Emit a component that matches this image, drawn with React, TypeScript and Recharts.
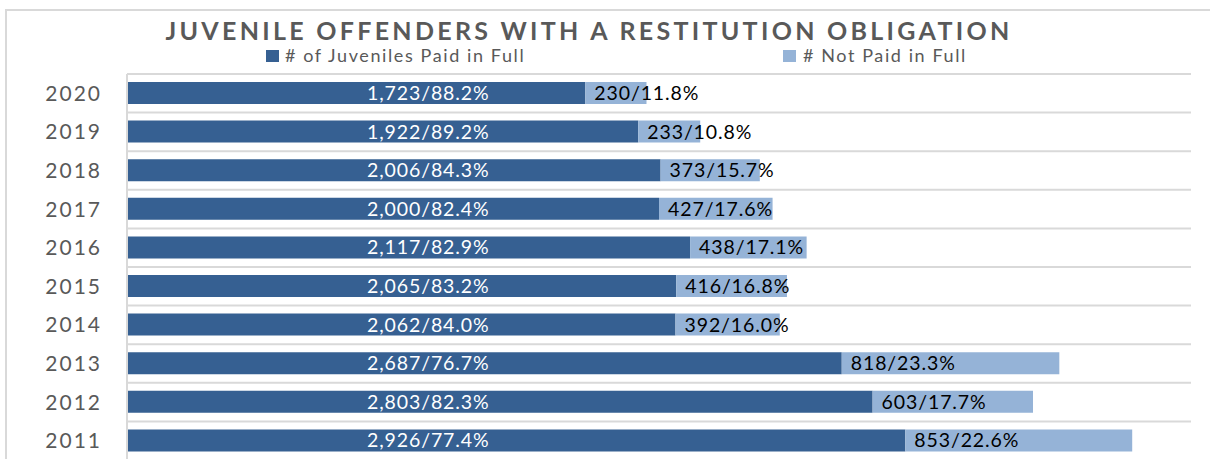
import React from 'react';
import { BarChart, Bar, XAxis, YAxis, CartesianGrid, LabelList } from 'recharts';

const years = ['2020', '2019', '2018', '2017', '2016', '2015', '2014', '2013', '2012', '2011'];
const paidInFull = [1723, 1922, 2006, 2000, 2117, 2065, 2062, 2687, 2803, 2926];
const paidPct = ['88.2', '89.2', '84.3', '82.4', '82.9', '83.2', '84.0', '76.7', '82.3', '77.4'];
const notPaidInFull = [230, 233, 373, 427, 438, 416, 392, 818, 603, 853];
const notPaidPct = ['11.8', '10.8', '15.7', '17.6', '17.1', '16.8', '16.0', '23.3', '17.7', '22.6'];

const seriesNames = ['# of Juveniles Paid in Full', '# Not Paid in Full'];
const title = 'JUVENILE OFFENDERS WITH A RESTITUTION OBLIGATION';

const DARK = '#366092';
const LIGHT = '#95B3D7';
const GRID = '#D9D9D9';
const TEXT = '#595959';
const FONT = 'Lato, "Open Sans", sans-serif';

const data = years.map((y, i) => ({
  year: y,
  paid: paidInFull[i],
  notPaid: notPaidInFull[i],
  paidLabel: `${paidInFull[i].toLocaleString('en-US')}/${paidPct[i]}%`,
  notPaidLabel: `${notPaidInFull[i].toLocaleString('en-US')}/${notPaidPct[i]}%`,
}));

const gridGen = (props: any) => {
  const { offset } = props;
  const n = years.length;
  const out: number[] = [];
  for (let i = 0; i <= n; i++) out.push(offset.top + (offset.height * i) / n);
  return out;
};

export default function App() {
  return (
    <div style={{ position: 'absolute', left: 0, top: 0, width: 1210, height: 459, overflow: 'hidden', background: '#fff', fontFamily: FONT }}>
      <div style={{ position: 'absolute', left: 5, top: 9, width: 1230, height: 480, border: `2px solid ${GRID}`, boxSizing: 'border-box' }} />
      <svg style={{ position: 'absolute', left: 0, top: 0 }} width={1210} height={70}>
        <text x={589} y={40} textAnchor="middle" fontFamily={FONT} fontWeight={700} fontSize={25} letterSpacing={3.3} fill={TEXT}>
          {title}
        </text>
        <rect x={266} y={50} width={13} height={12} fill={DARK} />
        <text x={285} y={62} fontFamily={FONT} fontSize={18} letterSpacing={1.6} fill={TEXT}>{seriesNames[0]}</text>
        <rect x={783} y={50} width={13} height={12} fill={LIGHT} />
        <text x={803} y={62} fontFamily={FONT} fontSize={18} letterSpacing={1.6} fill={TEXT}>{seriesNames[1]}</text>
      </svg>
      <div style={{ position: 'absolute', left: 0, top: 0 }}>
        <BarChart
          layout="vertical"
          width={1210}
          height={462}
          data={data}
          margin={{ top: 74, right: 19, bottom: 2, left: 0 }}
          barSize={22}
        >
          <CartesianGrid vertical={false} stroke={GRID} strokeWidth={2} horizontalCoordinatesGenerator={gridGen} />
          <XAxis type="number" domain={[0, 4000]} hide />
          <YAxis
            type="category"
            dataKey="year"
            width={127}
            tickLine={false}
            tickSize={0}
            tickMargin={25}
            axisLine={{ stroke: GRID, strokeWidth: 2 }}
            tick={{ fill: TEXT, fontSize: 21, fontFamily: FONT, letterSpacing: 2 }}
          />
          <Bar dataKey="paid" stackId="a" fill={DARK} isAnimationActive={false} name={seriesNames[0]}>
            <LabelList dataKey="paidLabel" position="insideLeft" offset={240} fill="#FFFFFF" fontSize={19.5} letterSpacing={0.9} fontFamily={FONT} />
          </Bar>
          <Bar dataKey="notPaid" stackId="a" fill={LIGHT} isAnimationActive={false} name={seriesNames[1]}>
            <LabelList dataKey="notPaidLabel" position="insideLeft" offset={9} fill="#000000" fontSize={19.5} letterSpacing={0.9} fontFamily={FONT} />
          </Bar>
        </BarChart>
      </div>
    </div>
  );
}
